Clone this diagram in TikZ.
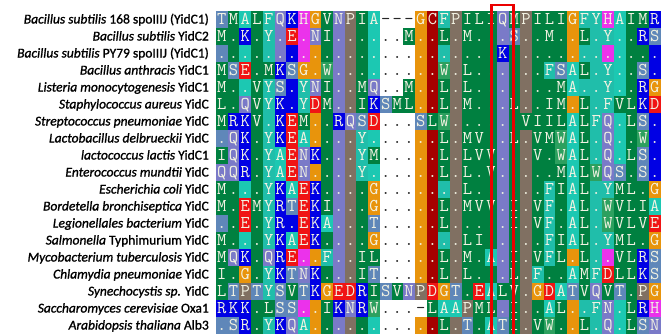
\documentclass[tikz,border=0pt]{standalone}
\usepackage{fontspec}
\newfontfamily\labfont[FakeBold=1.2]{Carlito}
\definecolor{aaA}{RGB}{28,200,178}
\definecolor{aaF}{RGB}{32,190,170}
\definecolor{aaY}{RGB}{32,190,170}
\definecolor{aaW}{RGB}{45,160,95}
\definecolor{aaI}{RGB}{0,128,64}
\definecolor{aaL}{RGB}{0,128,64}
\definecolor{aaM}{RGB}{0,128,64}
\definecolor{aaV}{RGB}{0,128,64}
\definecolor{aaS}{RGB}{95,135,185}
\definecolor{aaT}{RGB}{95,135,185}
\definecolor{aaN}{RGB}{122,122,200}
\definecolor{aaQ}{RGB}{122,122,200}
\definecolor{aaK}{RGB}{0,0,228}
\definecolor{aaR}{RGB}{0,0,228}
\definecolor{aaD}{RGB}{240,20,20}
\definecolor{aaE}{RGB}{240,20,20}
\definecolor{aaG}{RGB}{232,148,12}
\definecolor{aaP}{RGB}{128,112,98}
\definecolor{aaC}{RGB}{165,0,0}
\definecolor{aaH}{RGB}{235,50,235}
\definecolor{lettercol}{RGB}{242,242,226}
\definecolor{boxred}{RGB}{235,0,0}
\makeatletter
\newcount\colno
\def\setref#1{\colno=0 \@tfor\ch:=#1\do{\advance\colno by 1
  \expandafter\let\csname refc@\the\colno\endcsname\ch}}
\def\drawrow#1#2{%
  \colno=0
  \@tfor\ch:=#2\do{%
    \advance\colno by 1
    \expandafter\let\expandafter\refch\csname refc@\the\colno\endcsname
    \if\ch.\let\res\refch\else\let\res\ch\fi
    \pgfmathsetmacro\cx{216+11.7*(\the\colno-1)}%
    \pgfmathsetmacro\cy{10.5+17*(#1-1)}%
    \edef\cellname{c-#1-\the\colno}%
    \if\res-%
      \fill[white] (\cx,-\cy) rectangle ++(11.9,-17.2);
      \if\ch.\node[gapch] (\cellname) at (\cx+5.85,-\cy-14.3) {.};%
      \else\node[gapch] (\cellname) at (\cx+5.85,-\cy-14.3) {-};\fi
    \else
      \edef\rescol{aa\res}%
      \fill[fill=\rescol] (\cx,-\cy) rectangle ++(11.9,-17.2);
      \node[resch] (\cellname) at (\cx+5.85,-\cy-14.3) {\ch};%
    \fi
  }}
\makeatother
\begin{document}
\begin{tikzpicture}[x=1pt,y=1pt,
  resch/.style={text=lettercol,font=\ttfamily\fontsize{18}{18}\selectfont,anchor=base,inner sep=0pt},
  gapch/.style={text=black!85,font=\ttfamily\fontsize{18}{18}\selectfont,anchor=base,inner sep=0pt},
  lab/.style={font=\labfont\fontsize{13.5}{14}\selectfont,anchor=base east,inner sep=0pt,text=black}]
\useasboundingbox (0,0) rectangle (663,-333);
\fill[white] (0,0) rectangle (663,-333);
\setref{TMALFQKHGVNPIA---GCFPILIQMPILIGFYHAIMR}
\drawrow{1}{TMALFQKHGVNPIA---GCFPILIQMPILIGFYHAIMR}
\drawrow{2}{M.K.Y.E.NI......M..L.M...S..M..L.Y..RS}
\drawrow{3}{........................K.............}
\drawrow{4}{MSE.MKSG.W.........W.L......FSAL.Y..S.}
\drawrow{5}{M..VYS.YNI..MQ..M..L.L.......MA..Y..RG}
\drawrow{6}{L.QVYK.YDM..IKSML..L.M...L..IM.L.FVLKD}
\drawrow{7}{MRKV.KEM..RQSD...SLW......VIILALFQ.LS.}
\drawrow{8}{.QK.YKEA....Y......L.MV..L.VMWAL.Q..W.}
\drawrow{9}{IQK.YAENK...YM.....L.LVV...V.WAL.Q.LS.}
\drawrow{10}{QQR.YAEN....Y......L.L.V.....MALWQS.S.}
\drawrow{11}{M...YKAEK....G.......L......FIAL.YML.G}
\drawrow{12}{M.EMYRTEKI...G.....L.MVV.I.VF.AL.WVLIA}
\drawrow{13}{..E.YR.EKA...T.....L.....I.VF.AL.WVLVE}
\drawrow{14}{M...YKAEK....G.......LI.....FIAL.YML.G}
\drawrow{15}{MQK.QRE..F..IL.....L.M.A.I.VFL.L..VLRS}
\drawrow{16}{I.G.YKTNK...IT.....L.L...L.F..AMFDLLKS}
\drawrow{17}{LTPTYSVTKGEDRISVNPDGT.EALV.GDATVQVT.PG}
\drawrow{18}{RKK.LSS..IKNRW...-LAAPML.I..AL..FN.LRH}
\drawrow{19}{.SR.YKQA...........L.T.ATI.VW..L.Q.LSN}
% labels
\node[lab] (lab1) at (209,-23.5) {\textit{Bacillus subtilis} 168 spoIIIJ (YidC1)};
\node[lab] (lab2) at (209,-40.5) {\textit{Bacillus subtilis} YidC2};
\node[lab] (lab3) at (209,-57.5) {\textit{Bacillus subtilis} PY79 spoIIIJ (YidC1)};
\node[lab] (lab4) at (209,-74.5) {\textit{Bacillus anthracis} YidC1};
\node[lab] (lab5) at (209,-91.5) {\textit{Listeria monocytogenesis} YidC1};
\node[lab] (lab6) at (209,-108.5) {\textit{Staphylococcus aureus} YidC};
\node[lab] (lab7) at (209,-125.5) {\textit{Streptococcus pneumoniae} YidC};
\node[lab] (lab8) at (209,-142.5) {\textit{Lactobacillus delbrueckii} YidC};
\node[lab] (lab9) at (209,-159.5) {\textit{lactococcus lactis} YidC1};
\node[lab] (lab10) at (209,-176.5) {\textit{Enterococcus mundtii} YidC};
\node[lab] (lab11) at (209,-193.5) {\textit{Escherichia coli} YidC};
\node[lab] (lab12) at (209,-210.5) {\textit{Bordetella bronchiseptica} YidC};
\node[lab] (lab13) at (209,-227.5) {\textit{Legionellales bacterium} YidC};
\node[lab] (lab14) at (209,-244.5) {\textit{Salmonella} Typhimurium YidC};
\node[lab] (lab15) at (209,-261.5) {\textit{Mycobacterium tuberculosis} YidC};
\node[lab] (lab16) at (209,-278.5) {\textit{Chlamydia pneumoniae} YidC};
\node[lab] (lab17) at (209,-295.5) {\textit{Synechocystis sp.} YidC};
\node[lab] (lab18) at (209,-312.5) {\textit{Saccharomyces cerevisiae} Oxa1};
\node[lab] (lab19) at (209,-329.5) {\textit{Arabidopsis thaliana} Alb3};
% highlight box
\coordinate (hbl) at (491.5,-345);
\coordinate (htl) at (491.5,-5);
\coordinate (htr) at (513.5,-5);
\coordinate (hbr) at (513.5,-345);
\draw[boxred,line width=2.7pt] (hbl) -- (htl) -- (htr) -- (hbr);
\end{tikzpicture}
\end{document}
